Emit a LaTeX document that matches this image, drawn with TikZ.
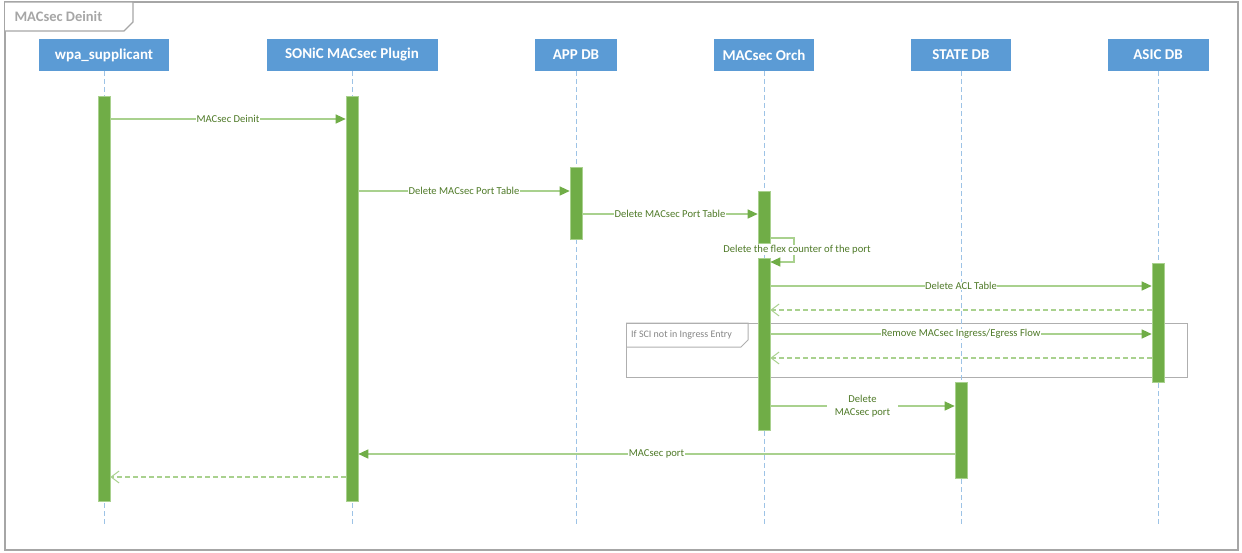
\documentclass[tikz,border=0pt]{standalone}
\usepackage{fontspec}
\setmainfont{Carlito}
\usetikzlibrary{arrows.meta}
\definecolor{hdrblue}{HTML}{5B9BD5}
\definecolor{lifeblue}{HTML}{9DC3E6}
\definecolor{bargreen}{HTML}{70AD47}
\definecolor{msggreen}{HTML}{A9D18E}
\definecolor{txtgreen}{HTML}{4F7A28}
\definecolor{framegray}{HTML}{A6A6A6}
\tikzset{
  hdr/.style={fill=hdrblue, draw=none, text=white, minimum height=32pt, inner sep=0pt,
    font=\fontsize{15}{17}\selectfont\bfseries},
  lifeline/.style={draw=lifeblue, line width=1pt, dash pattern=on 5pt off 3pt},
  actbar/.style={fill=bargreen, draw=msggreen, line width=0.6pt, minimum width=12pt, inner sep=0pt},
  msg/.style={draw=msggreen, line width=1.3pt, -{Triangle[length=10pt,width=9pt,fill=bargreen,color=bargreen]}},
  ret/.style={draw=msggreen, line width=1.1pt, dash pattern=on 5pt off 3pt, -{Straight Barb[length=8pt,width=12pt,color=msggreen,line width=1pt]}},
  lbl/.style={fill=white, inner sep=0.5pt, text=txtgreen, font=\fontsize{10.6}{12}\selectfont},
  frm/.style={draw=framegray, line width=1.1pt},
}
\begin{document}
\begin{tikzpicture}[x=1pt,y=-1pt]
\useasboundingbox (0,0) rectangle (1242,552);
% outer frame
\draw[frm] (5,2) rectangle (1238,550);
\draw[frm, fill=white] (5,2) -- (133,2) -- (133,22) -- (124,31) -- (5,31);
\node[anchor=west, text=framegray, font=\fontsize{14.5}{16}\selectfont\bfseries] (title) at (11,16) {MACsec Deinit};
% fragment
\draw[frm, line width=1pt, draw=framegray!90] (626,323) rectangle (1187,377);
\draw[frm, line width=1pt, draw=framegray!90] (626,323) -- (748,323) -- (748,340) -- (741,347) -- (626,347);
\node[text=framegray!80!black, font=\fontsize{10}{11}\selectfont, anchor=west, inner sep=0pt] (fraglbl) at (631,335) {If SCI not in Ingress Entry};
% headers
\node[hdr, minimum width=130pt] (wpa) at (104,55) {wpa\_supplicant};
\node[hdr, minimum width=171pt] (plug) at (352,55) {SONiC MACsec Plugin};
\node[hdr, minimum width=82pt] (app) at (576,55) {APP DB};
\node[hdr, minimum width=100pt] (orch) at (764,55) {MACsec Orch};
\node[hdr, minimum width=100pt] (state) at (961,55) {STATE DB};
\node[hdr, minimum width=101pt] (asic) at (1158,55) {ASIC DB};
% lifeline ends
\coordinate (wpaE) at (104,527);
\coordinate (plugE) at (352,527);
\coordinate (appE) at (576,527);
\coordinate (orchE) at (764,527);
\coordinate (stateE) at (961,527);
\coordinate (asicE) at (1158,527);
\draw[lifeline] (wpa.south) -- (wpaE);
\draw[lifeline] (plug.south) -- (plugE);
\draw[lifeline] (app.south) -- (appE);
\draw[lifeline] (orch.south) -- (orchE);
\draw[lifeline] (state.south) -- (stateE);
\draw[lifeline] (asic.south) -- (asicE);
% activation bars
\node[actbar, minimum height=405pt] (wpaBar) at (104,298.5) {};
\node[actbar, minimum height=405pt] (plugBar) at (352,298.5) {};
\node[actbar, minimum height=72pt] (appBar) at (576,203) {};
\node[actbar, minimum height=52pt] (orchBarA) at (764,217) {};
\node[actbar, minimum height=172pt] (orchBarB) at (764,344) {};
\node[actbar, minimum height=119pt] (asicBar) at (1158,322.5) {};
\node[actbar, minimum height=96pt] (stateBar) at (961,430) {};
% message levels
\coordinate (y1) at (0,119);
\coordinate (y2) at (0,191);
\coordinate (y3) at (0,214);
\coordinate (s1) at (794,238);
\coordinate (s2) at (794,262);
\coordinate (y4) at (0,286);
\coordinate (y5) at (0,310);
\coordinate (y6) at (0,334);
\coordinate (y7) at (0,358);
\coordinate (y8) at (0,406);
\coordinate (y9) at (0,454);
\coordinate (y10) at (0,477);
% messages
\draw[msg] (wpaBar.east |- y1) -- node[lbl] (m1) {MACsec Deinit} (plugBar.west |- y1);
\draw[msg] (plugBar.east |- y2) -- node[lbl] (m2) {Delete MACsec Port Table} (appBar.west |- y2);
\draw[msg] (appBar.east |- y3) -- node[lbl] (m3) {Delete MACsec Port Table} (orchBarA.west |- y3);
\draw[msg] (orchBarA.east |- s1) -- (s1) -- (s2) -- (orchBarB.east |- s2);
\node[lbl] (m4) at (797,250) {Delete the flex counter of the port};
\draw[msg] (orchBarB.east |- y4) -- node[lbl] (m5) {Delete ACL Table} (asicBar.west |- y4);
\draw[ret] (asicBar.west |- y5) -- (orchBarB.east |- y5);
\draw[msg] (orchBarB.east |- y6) -- node[lbl] (m6) {Remove MACsec Ingress/Egress Flow} (asicBar.west |- y6);
\draw[ret] (asicBar.west |- y7) -- (orchBarB.east |- y7);
\draw[msg] (orchBarB.east |- y8) -- node[lbl, align=center, font=\fontsize{10.6}{13}\selectfont, inner xsep=8pt] (m7) {Delete\\MACsec port} (stateBar.west |- y8);
\draw[msg] (stateBar.west |- y9) -- node[lbl] (m8) {MACsec port} (plugBar.east |- y9);
\draw[ret] (plugBar.west |- y10) -- (wpaBar.east |- y10);
\end{tikzpicture}
\end{document}
